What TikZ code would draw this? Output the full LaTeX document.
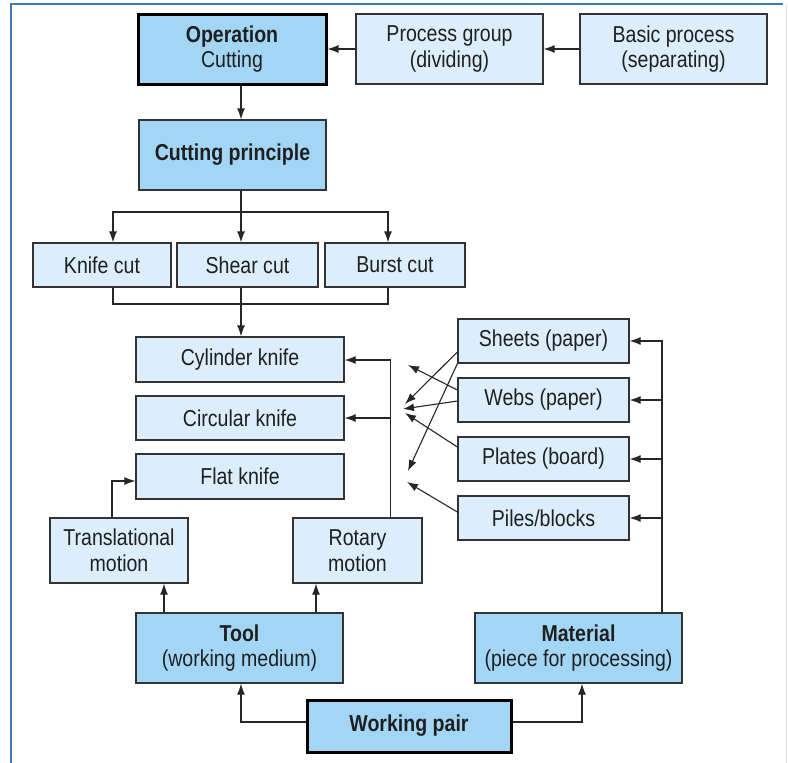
\documentclass[tikz,border=0pt]{standalone}
\usepackage{fontspec}
\setmainfont{Liberation Sans}[FakeStretch=0.85]
\usepackage{tikz}
\usetikzlibrary{arrows.meta}

\definecolor{boxdark}{HTML}{A3D6F5}
\definecolor{boxlight}{HTML}{DCEEFB}
\definecolor{frameblue}{HTML}{3B7BB6}
\definecolor{linegray}{HTML}{333333}

\begin{document}
\begin{tikzpicture}[x=1pt, y=-1pt,
		font=\fontsize{23}{25.5}\selectfont, text=black!88,
		box/.style={rectangle, draw=linegray, line width=1.3pt, inner sep=0pt, align=center},
		lightbox/.style={box, fill=boxlight},
		darkbox/.style={box, fill=boxdark},
		mainbox/.style={darkbox, draw=black, line width=3pt},
		arr/.style={-{Latex[length=11pt, width=8pt]}, line width=1.1pt, draw=black!85},
		link/.style={line width=1.1pt, draw=black!85}]
				\useasboundingbox (0,0) rectangle (788,763);
				\draw[frameblue, line width=2pt] (10.5,763) -- (10.5,4) -- (783,4);
				\draw[black!12, line width=1pt] (786.5,5) -- (786.5,763);

				\node[mainbox, minimum width=188pt, minimum height=70pt] (op) at (232,49) {\textbf{Operation}\\Cutting};
				\node[lightbox, minimum width=187pt, minimum height=70pt] (grp) at (449.5,49) {Process group\\(dividing)};
				\node[lightbox, minimum width=187pt, minimum height=70pt] (basic) at (673.5,49) {Basic process\\(separating)};
				\node[darkbox, minimum width=187pt, minimum height=70pt] (princ) at (232.5,155) {\textbf{Cutting principle}};

				\node[lightbox, minimum width=138pt, minimum height=44pt] (knife) at (102,265) {Knife cut};
				\node[lightbox, minimum width=141pt, minimum height=44pt] (shear) at (247.5,265) {Shear cut};
				\node[lightbox, minimum width=140pt, minimum height=44pt] (burst) at (395,265) {Burst cut};

				\node[lightbox, minimum width=208pt, minimum height=45pt] (cyl) at (240,359.5) {Cylinder knife};
				\node[lightbox, minimum width=208pt, minimum height=44pt] (circ) at (240,418) {Circular knife};
				\node[lightbox, minimum width=208pt, minimum height=45pt] (flat) at (240,476.5) {Flat knife};

				\node[lightbox, minimum width=138pt, minimum height=65pt] (trans) at (119,550.5) {Translational\\motion};
				\node[lightbox, minimum width=129pt, minimum height=65pt] (rot) at (357.5,550.5) {Rotary\\motion};

				\node[darkbox, minimum width=207pt, minimum height=70pt] (tool) at (239.5,648) {\textbf{Tool}\\(working medium)};
				\node[darkbox, minimum width=207pt, minimum height=70pt] (mat) at (578.5,648) {\textbf{Material}\\(piece for processing)};
				\node[mainbox, minimum width=204pt, minimum height=52pt] (pair) at (409,726) {\textbf{Working pair}};

				\node[lightbox, minimum width=171pt, minimum height=44pt] (sheets) at (543.5,341) {Sheets (paper)};
				\node[lightbox, minimum width=171pt, minimum height=44pt] (webs) at (543.5,400) {Webs (paper)};
				\node[lightbox, minimum width=171pt, minimum height=44pt] (plates) at (543.5,459) {Plates (board)};
				\node[lightbox, minimum width=171pt, minimum height=44pt] (piles) at (543.5,518) {Piles/blocks};

				\draw[arr] (basic) -- (grp);
				\draw[arr] (grp) -- (op);
				\draw[arr] ([xshift=9pt]op.south) -- ([xshift=8.5pt]princ.north);

				\coordinate (split) at (241,212);
				\draw[link] ([xshift=8.5pt]princ.south) -- (split);
				\draw[arr] (split) -| ([xshift=11pt]knife.north);
				\draw[arr] (split) -| ([xshift=-7pt]burst.north);
				\draw[arr] (split) -- ([xshift=-6.5pt]shear.north);

				\coordinate (join) at (241,304);
				\draw[link] ([xshift=11pt]knife.south) |- (join);
				\draw[link] ([xshift=-7pt]burst.south) |- (join);
				\draw[link] ([xshift=-6.5pt]shear.south) -- (join);
				\draw[arr] (join) -- (join |- cyl.north);

				\draw[arr] ([xshift=-7pt]trans.north) |- ([yshift=-4.5pt]flat.west);
				\coordinate (rtop) at (390.5,360);
				\draw[link] (rtop) -- (rtop |- rot.north);
				\draw[arr] (rtop) -- (rtop -| cyl.east);
				\draw[arr] (rtop |- circ.east) -- (circ.east);

				\draw[arr] ([xshift=45pt]trans.south |- tool.north) -- ([xshift=45pt]trans.south);
				\draw[arr] ([xshift=-41.5pt]rot.south |- tool.north) -- ([xshift=-41.5pt]rot.south);
				\draw[arr] ([yshift=4pt]pair.west) -| ([xshift=1.5pt]tool.south);
				\draw[arr] ([yshift=4pt]pair.east) -| ([xshift=3.5pt]mat.south);

				\coordinate (mtop) at (662,340);
				\draw[link] (mtop) -- (mtop |- mat.north);
				\foreach \n in {sheets,webs,plates,piles}
					\draw[arr] (mtop |- \n.east) -- (\n.east);

				\coordinate (s1) at (405,404);
				\coordinate (s2) at (408,471);
				\coordinate (w1) at (408,365);
				\coordinate (w2) at (403,409);
				\coordinate (p1) at (405,413);
				\coordinate (b1) at (407,482);
				\draw[arr] ([yshift=-11pt]sheets.west) -- (s1);
				\draw[arr] (sheets.south west) -- (s2);
				\draw[arr] ([yshift=10pt]webs.west) -- (w1);
				\draw[arr] ([yshift=-1pt]webs.west) -- (w2);
				\draw[arr] ([yshift=12pt]plates.west) -- (p1);
				\draw[arr] ([yshift=6pt]piles.west) -- (b1);
			\end{tikzpicture}
\end{document}
